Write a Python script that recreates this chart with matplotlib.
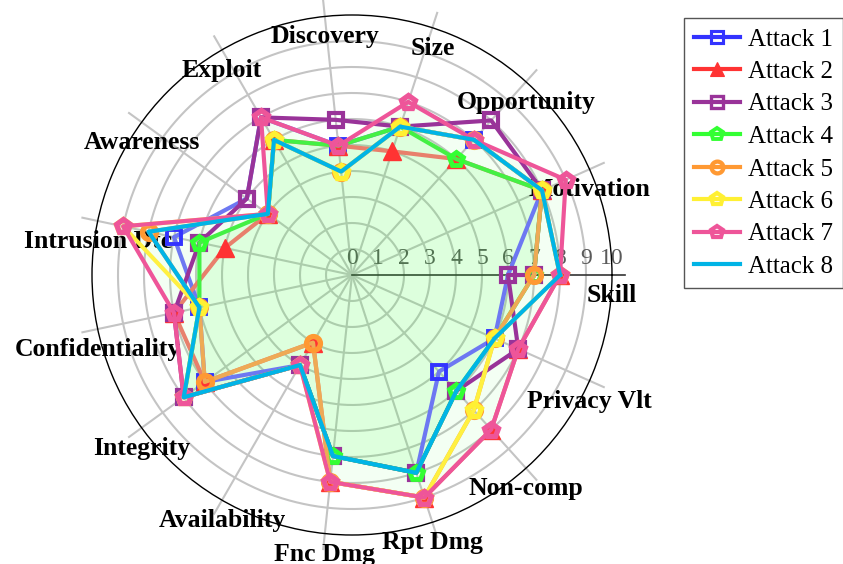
import numpy as np
import matplotlib.pyplot as plt
from matplotlib.lines import Line2D

# Categories (counter-clockwise from 0 deg)
categories = ['Skill', 'Motivation', 'Opportunity', 'Size', 'Discovery', 'Exploit',
              'Awareness', 'Intrusion Dtc', 'Confidentiality', 'Integrity',
              'Availability', 'Fnc Dmg', 'Rpt Dmg', 'Non-comp', 'Privacy Vlt']

attack1 = [6, 8, 7, 6, 5, 7, 5, 7, 6, 7, 4, 7, 8, 5, 6]
attack2 = [8, 8, 6, 5, 5, 6, 4, 5, 7, 7, 3, 8, 9, 8, 7]
attack3 = [7, 8, 8, 6, 6, 7, 5, 6, 7, 8, 4, 7, 8, 6, 7]
attack3_end = 6   # last point at 360 deg differs from the first one
attack4 = [7, 8, 6, 6, 5, 6, 4, 6, 6, 8, 4, 7, 8, 6, 6]
attack5 = [7, 8, 7, 6, 4, 6, 4, 8, 6, 7, 3, 8, 9, 7, 6]
attack6 = [8, 8, 7, 6, 4, 6, 4, 9, 6, 8, 4, 8, 9, 7, 6]
attack7 = [8, 9, 7, 7, 5, 7, 4, 9, 7, 8, 4, 8, 9, 8, 7]
attack8 = [8, 8, 7, 6, 4, 6, 4, 8, 6, 8, 4, 7, 8, 6, 6]

series_names = ['Attack 1', 'Attack 2', 'Attack 3', 'Attack 4',
                'Attack 5', 'Attack 6', 'Attack 7', 'Attack 8']
rticks = list(range(0, 11))

plt.rcParams['font.family'] = ['Liberation Serif', 'DejaVu Serif']

n = len(categories)
angles = np.deg2rad(np.arange(n) * 360.0 / n)


def closed(vals, end=None):
    th = np.append(angles, 2 * np.pi)
    r = list(vals) + [vals[0] if end is None else end]
    if end is not None:
        th = np.append(th, 0.0)
        r = r + [vals[0]]
    return th, r


fig = plt.figure(figsize=(8.43, 5.64), dpi=100)
ax = fig.add_axes([92 / 843, 29 / 564, 520 / 843, 520 / 564], projection='polar')
ax.set_ylim(0, 10)
ax.grid(False)
ax.set_xticks([])
ax.set_yticks([])
ax.spines['polar'].set_color('black')
ax.spines['polar'].set_linewidth(1.0)

# grid
full = np.linspace(0, 2 * np.pi, 400)
for r in range(1, 10):
    ax.plot(full, [r] * len(full), color='#c4c4c4', lw=1.5, zorder=1)
for a in angles[1:]:
    ax.plot([a, a], [0, 10.6], color='#c4c4c4', lw=1.5, zorder=1, clip_on=False)
ax.plot([0, 0], [0, 10.5], color='#333333', lw=1.2, zorder=1, clip_on=False)

for r in rticks:
    ax.annotate(str(r), xy=(0, r), xytext=(0, 16), textcoords='offset pixels',
                ha='center', va='center', fontsize=17, color='#5a5a5a', zorder=1.5)

# fills
th, r7 = closed(attack7)
ax.fill(th, r7, color='#33ff33', alpha=0.06, lw=0, zorder=2)
th, r4 = closed(attack4)
ax.fill(th, r4, color='#33ff33', alpha=0.11, lw=0, zorder=2)

for a, lbl in zip(angles, categories):
    ax.annotate(lbl, xy=(a, 10), xytext=(0, -27), textcoords='offset pixels',
                ha='center', va='baseline', fontsize=18.5, fontweight='bold',
                color='black', zorder=2.5, annotation_clip=False)

# colour: legend/marker colour, line colour (some lines render lighter)
styles = [
    dict(color='#3333ff', lc='#6d78f2', marker='s', mfc='none', ms=9.5, mew=2.8),
    dict(color='#ff3333', lc='#e8806c', marker='^', mfc='#ff3333', ms=12.5, mew=1),
    dict(color='#993399', lc='#993399', marker='s', mfc='none', ms=10, mew=3),
    dict(color='#33ff33', lc='#44f044', marker='p', mfc='none', ms=10.5, mew=3.5),
    dict(color='#ff9933', lc='#eeaa55', marker='o', mfc='none', ms=10, mew=3.8),
    dict(color='#fff033', lc='#fff040', marker='p', mfc='none', ms=10.5, mew=3.8),
    dict(color='#ee5599', lc='#ee5599', marker='p', mfc='none', ms=10.5, mew=3.8),
    dict(color='#00b4e6', lc='#00b4e6', marker=None, mfc='none', ms=0, mew=0),
]
data = [attack1, attack2, attack3, attack4, attack5, attack6, attack7, attack8]

handles = []
for i, (vals, st) in enumerate(zip(data, styles)):
    end = attack3_end if i == 2 else None
    th, rr = closed(vals, end)
    ax.plot(th, rr, color=st['lc'], lw=3, zorder=3 + i, clip_on=False)
    if st['marker']:
        ax.plot(th[:-1], rr[:-1], ls='none', marker=st['marker'], ms=st['ms'],
                mec=st['color'], mfc=st['mfc'], mew=st['mew'], zorder=3 + i,
                clip_on=False)
    handles.append(Line2D([], [], color=st['color'], lw=3,
                          marker=st['marker'], ms=st['ms'] * 0.85,
                          mec=st['color'], mfc=st['mfc'], mew=st['mew'] * 0.8))

leg = fig.legend(handles, series_names, loc='upper left',
                 bbox_to_anchor=(684 / 843, 1 - 18 / 564), borderaxespad=0,
                 fancybox=False, edgecolor='#555555', framealpha=1,
                 fontsize=18, handlelength=1.85, handletextpad=0.3,
                 labelspacing=0.4, borderpad=0.4)
leg.get_frame().set_linewidth(1.0)

fig.savefig('out.png', dpi=100)
